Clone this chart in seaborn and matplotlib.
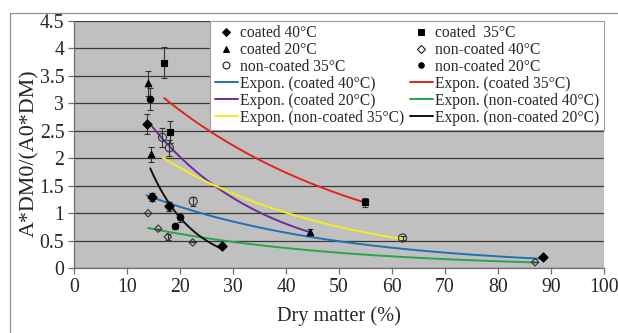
import numpy as np
import pandas as pd
import seaborn as sns
import matplotlib.pyplot as plt
from matplotlib.lines import Line2D
from matplotlib.ticker import FixedLocator, FixedFormatter

# %% Data

# coated 40 C (filled diamonds)
c40_x = [13.7, 14.7, 17.9, 28.0, 88.5]
c40_y = [2.62, 1.29, 1.13, 0.41, 0.20]
c40_e = [0.18, 0.07, 0.08, 0.0, 0.0]

# coated 35 C (filled squares)
c35_x = [17.0, 18.2, 55.0]
c35_y = [3.74, 2.47, 1.20]
c35_e = [0.28, 0.20, 0.08]

# coated 20 C (filled triangles)
c20_x = [13.9, 14.5, 44.5]
c20_y = [3.36, 2.07, 0.66]
c20_e = [0.22, 0.14, 0.05]

# non-coated 40 C (open diamonds)
n40_x = [14.0, 15.9, 17.7, 22.4, 87.0]
n40_y = [1.00, 0.72, 0.57, 0.47, 0.11]
n40_e = [0.0, 0.0, 0.06, 0.0, 0.0]

# non-coated 35 C (open circles)
n35_x = [16.7, 18.0, 22.5, 62.0]
n35_y = [2.38, 2.19, 1.22, 0.55]
n35_e = [0.17, 0.14, 0.08, 0.03]

# non-coated 20 C (filled dots)
n20_x = [14.4, 14.7, 17.9, 19.1, 20.0, 27.9]
n20_y = [3.08, 1.29, 1.13, 0.76, 0.93, 0.40]
n20_e = [0.20, 0.07, 0.08, 0.04, 0.08, 0.0]

x_ticks = [0, 10, 20, 30, 40, 50, 60, 70, 80, 90, 100]
y_ticks = [0, 0.5, 1, 1.5, 2, 2.5, 3, 3.5, 4, 4.5]
y_tick_labels = ['0', '0.5', '1', '1.5', '2', '2.5', '3', '3.5', '4', '4.5']

# %% Series settings (name, x, y, err, marker, filled, marker size, fit colour)
lst_series = [
    ('coated 40°C', c40_x, c40_y, c40_e, 'D', True, 22, '#2170b8'),
    ('coated  35°C', c35_x, c35_y, c35_e, 's', True, 22, '#e42320'),
    ('coated 20°C', c20_x, c20_y, c20_e, '^', True, 22, '#6a2d9a'),
    ('non-coated 40°C', n40_x, n40_y, n40_e, 'D', False, 14, '#2aa548'),
    ('non-coated 35°C', n35_x, n35_y, n35_e, 'o', False, 34, '#f2ee1e'),
    ('non-coated 20°C', n20_x, n20_y, n20_e, 'o', True, 22, '#111111'),
]

# %% Plot

sns.set_style('ticks')
plt.rcParams['font.family'] = ['Liberation Serif', 'DejaVu Serif']

fig, ax = plt.subplots(figsize=(6.18, 3.33), dpi=100)
fig.subplots_adjust(left=0.1197, right=0.9773, top=0.9378, bottom=0.1943)
ax.set_facecolor('#c0c0c0')

dct_pts = {}
dct_fit = {}
for name, xs, ys, es, mrk, filled, size, col in lst_series:
    df = pd.DataFrame({'x': xs, 'y': ys, 'e': es})
    # exponential trendline, like the Excel "Expon." fit
    b, a = np.polyfit(df['x'], np.log(df['y']), 1)
    df_fit = pd.DataFrame({'x': np.linspace(df['x'].min(), df['x'].max(), 60)})
    df_fit['y'] = np.exp(a) * np.exp(b * df_fit['x'])
    sns.lineplot(data=df_fit, x='x', y='y', color=col, linewidth=1.4,
                 ax=ax, zorder=3)
    ax.errorbar(df['x'], df['y'], yerr=df['e'], fmt='none', ecolor='#333333',
                elinewidth=0.8, capsize=2.5, capthick=0.8, zorder=4)
    sns.scatterplot(data=df, x='x', y='y', marker=mrk, s=size,
                    color='black' if filled else 'none',
                    edgecolor='black' if filled else '#333333',
                    linewidth=0.8, ax=ax, zorder=5)
    dct_pts[name] = Line2D([], [], linestyle='none', marker=mrk,
                           markersize=4 if mrk != 'o' or filled else 5,
                           markerfacecolor='black' if filled else 'white',
                           markeredgecolor='black', markeredgewidth=0.7)
    dct_fit[name] = Line2D([], [], color=col, linewidth=1.4)

ax.set_xlim(0, 100)
ax.set_ylim(0, 4.5)
ax.xaxis.set_major_locator(FixedLocator(x_ticks))
ax.yaxis.set_major_locator(FixedLocator(y_ticks))
ax.yaxis.set_major_formatter(FixedFormatter(y_tick_labels))
ax.yaxis.grid(True, color='#3a3a3a', linewidth=0.9)
ax.set_axisbelow(True)
for s in ['top', 'right']:
    ax.spines[s].set_visible(False)
for s in ['left', 'bottom']:
    ax.spines[s].set_color('#707070')
    ax.spines[s].set_linewidth(0.9)
ax.tick_params(axis='both', direction='out', length=4, width=0.9,
               color='#707070', labelsize=14.2, pad=3)
ax.set_xlabel('Dry matter (%)', fontsize=14.6, labelpad=7)
ax.set_ylabel('A*DM0/(A0*DM)', fontsize=15.8)
ax.yaxis.set_label_coords(-0.066, 0.466)

# legend: two columns in Excel order
lst_names = [s[0] for s in lst_series]
col1 = [lst_names[0], lst_names[2], lst_names[4]]
col2 = [lst_names[1], lst_names[3], lst_names[5]]
handles = ([dct_pts[n] for n in col1] + [dct_fit[n] for n in col1] +
           [dct_pts[n] for n in col2] + [dct_fit[n] for n in col2])
labels = (col1 + ['Expon. (' + n.replace('  ', ' ') + ')' for n in col1] +
          col2 + ['Expon. (' + n.replace('  ', ' ') + ')' for n in col2])
leg = ax.legend(handles, labels, ncol=2, loc='upper right',
                bbox_to_anchor=(1.0, 1.0), fontsize=11.2, frameon=True,
                fancybox=False, framealpha=1, edgecolor='#a0a0a0',
                handlelength=1.5, handletextpad=0.15, labelspacing=0.06,
                columnspacing=0.35, borderpad=0.28, borderaxespad=0.0)
leg.get_frame().set_linewidth(0.8)
leg.set_zorder(10)

# chart area border (left and top edges visible)
fig.add_artist(Line2D([10 / 618, 10 / 618], [0, 1 - 13 / 333],
                      transform=fig.transFigure, color='#909090', lw=0.9))
fig.add_artist(Line2D([10 / 618, 1], [1 - 13 / 333, 1 - 13 / 333],
                      transform=fig.transFigure, color='#909090', lw=0.9))

fig.savefig('out.png', dpi=100)
